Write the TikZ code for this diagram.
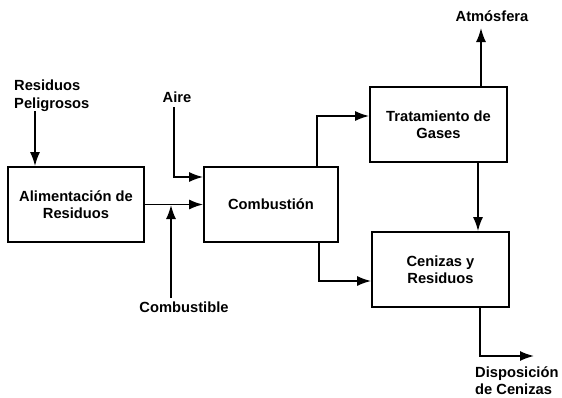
\documentclass[tikz,border=0pt]{standalone}
\usepackage{fontspec}
\setmainfont{Liberation Sans}
\usetikzlibrary{arrows.meta}
\begin{document}
\begin{tikzpicture}[x=1pt,y=-1pt,
  font=\fontsize{14.7}{17.5}\selectfont\bfseries,
  box/.style={draw,line width=1.7pt,align=center,inner sep=0pt},
  arr/.style={line width=1.7pt,-{Latex[length=14pt,width=10pt]}},
  lbl/.style={inner sep=0pt,align=left}]
\useasboundingbox (0,0) rectangle (562,397);
% boxes
\node[box,minimum width=136pt,minimum height=75pt] (alim) at (76,204.5) {Alimentación de\\Residuos};
\node[box,minimum width=134pt,minimum height=75pt] (comb) at (271,204.5) {Combustión};
\node[box,minimum width=137pt,minimum height=75pt] (trat) at (438.5,124.5) {Tratamiento de\\Gases};
\node[box,minimum width=137pt,minimum height=75pt] (cen) at (440.5,269.5) {Cenizas y\\Residuos};
% labels
\node[lbl,anchor=west] (rp) at (14,95.5) {Residuos\\Peligrosos};
\node[lbl] (aire) at (177,97) {Aire};
\node[lbl] (cbl) at (184,307) {Combustible};
\node[lbl] (atm) at (492,16) {Atmósfera};
\node[lbl,anchor=west] (disp) at (475,380.5) {Disposición\\de Cenizas};
% coordinates
\coordinate (rpS) at (35,111);
\coordinate (aireS) at (174,107);
\coordinate (aireB) at (174,177);
\coordinate (cblS) at (171,298);
\coordinate (cblE) at (171,205);
\coordinate (ctB) at (317,116);
\coordinate (atmE) at (481,28);
\coordinate (ccB) at (319,281);
\coordinate (dB) at (480,356);
\coordinate (dE) at (534,356);
% connectors
\draw[arr] (rpS) -- (rpS |- alim.north);
\draw[arr] (aireS) -- (aireB) -- (aireB -| comb.west);
\draw[arr] (alim.east) -- (comb.west);
\draw[arr] (cblS) -- (cblE);
\draw[arr] (ctB |- comb.north) -- (ctB) -- (ctB -| trat.west);
\draw[arr] (atmE |- trat.north) -- (atmE);
\draw[arr] (trat.south -| 478,0) -- (cen.north -| 478,0);
\draw[arr] (ccB |- comb.south) -- (ccB) -- (ccB -| cen.west);
\draw[arr] (dB |- cen.south) -- (dB) -- (dE);
\end{tikzpicture}
\end{document}
